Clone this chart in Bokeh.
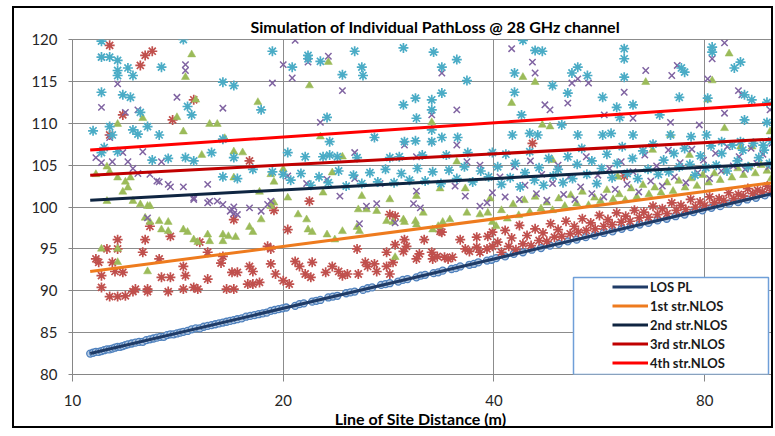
from bokeh.plotting import figure
from bokeh.models import (Range1d, FixedTicker, NumeralTickFormatter, Legend,
                          LegendItem, BoxAnnotation, ColumnDataSource)
from bokeh.embed import file_html
from bokeh.resources import INLINE

# ---------------- data ----------------
x_ticks = [10, 20, 40, 80]
y_ticks = [80, 85, 90, 95, 100, 105, 110, 115, 120]

legend_labels = ["LOS PL", "1st str.NLOS", "2nd str.NLOS", "3rd str.NLOS", "4th str.NLOS"]

# straight trend lines (distance, path loss dB)
trend_x = [10.6, 100.0]
los_trend = [82.5, 101.6]
nlos1_trend = [92.3, 102.9]
nlos2_trend = [100.8, 105.2]
nlos3_trend = [103.8, 108.1]
nlos4_trend = [106.8, 112.3]

# LOS path loss samples (blue circles)
los_pts = [(10.6,82.5),(10.7,82.6),(10.8,82.7),(10.9,82.7),(11.0,82.8),(11.1,82.9),(11.2,83.0),(11.3,83.0),
           (11.4,83.1),(11.5,83.2),(11.6,83.3),(11.7,83.3),(11.8,83.4),(11.9,83.5),(12.0,83.6),(12.15,83.7),
           (12.3,83.8),(12.45,83.9),(12.6,83.9),(12.75,84.1),(12.9,84.2),(13.05,84.3),(13.2,84.4),(13.35,84.5),
           (13.5,84.5),(13.65,84.7),(13.8,84.8),(13.95,84.8),(14.1,84.9),(14.25,85.0),(14.4,85.1),(14.6,85.2),
           (14.8,85.4),(15.0,85.5),(15.2,85.5),(15.4,85.7),(15.6,85.8),(15.8,85.9),(16.0,86.0),(16.2,86.1),
           (16.4,86.2),(16.6,86.3),(16.8,86.4),(17.0,86.5),(17.2,86.6),(17.45,86.7),(17.7,86.9),(17.95,87.0),
           (18.2,87.1),(18.45,87.2),(18.7,87.3),(18.95,87.4),(19.2,87.6),(19.45,87.7),(19.7,87.8),(19.95,87.9),
           (20.2,88.0),(20.8,88.2),(21.1,88.4),(21.4,88.5),(22.0,88.7),(22.3,88.8),(22.6,88.9),(23.2,89.2),
           (23.55,89.3),(23.9,89.4),(24.6,89.7),(24.95,89.8),(25.3,89.9),(26.0,90.1),(26.4,90.3),(26.8,90.4),
           (27.6,90.7),(28.0,90.8),(28.4,90.9),(29.2,91.1),(29.65,91.3),(30.1,91.4),(31.0,91.6),(31.45,91.8),
           (31.9,91.9),(32.8,92.1),(33.3,92.2),(33.8,92.4),(34.8,92.6),(35.3,92.7),(35.8,92.9),(36.9,93.1),
           (37.45,93.2),(38.0,93.4),(39.1,93.6),(39.7,93.7),(40.3,93.9),(41.5,94.1),(42.7,94.4),(44.0,94.6),
           (45.3,94.9),(46.7,95.1),(48.1,95.4),(49.5,95.6),(51.0,95.9),(52.5,96.1),(54.1,96.4),(55.7,96.6),
           (57.4,96.9),(59.1,97.1),(60.9,97.4),(62.7,97.6),(64.6,97.9),(66.5,98.1),(68.5,98.4),(70.6,98.6),
           (72.7,98.9),(74.9,99.1),(77.1,99.4),(79.4,99.6),(81.8,99.9),(84.2,100.1),(86.7,100.4),(89.3,100.6),
           (92.0,100.9),(94.7,101.1),(97.5,101.4),(100.0,101.6)]

# 1st strongest NLOS path (red asterisks)
nlos1_pts = [(10.8,93.8),(10.9,93.4),(11.0,91.8),(11.0,90.4),(11.2,95.0),(11.3,89.3),(11.4,93.4),(11.5,92.3),
             (11.6,96.1),(11.6,95.0),(11.6,89.3),(11.8,92.2),(11.9,89.4),(12.2,89.9),(12.3,90.2),(12.6,94.6),
             (12.7,96.1),(12.8,90.2),(12.8,89.9),(12.9,97.7),(13.3,93.8),(13.4,91.6),(13.7,89.9),(13.8,91.6),
             (13.8,96.5),(14.4,92.9),(14.4,90.2),(14.5,91.8),(14.9,90.4),(15.1,90.2),(15.2,95.8),(15.6,91.4),
             (15.6,94.6),(16.3,93.3),(16.4,94.1),(16.6,90.2),(16.9,92.2),(17.0,90.2),(17.0,98.5),(17.2,92.2),
             (17.8,90.8),(17.9,92.9),(18.1,90.8),(18.1,92.3),(18.5,91.0),(19.0,95.3),(19.2,95.0),(19.2,93.2),
             (19.4,99.6),(19.5,92.0),(11.3,119.3),(12.7,118.1),(13.0,118.6),(12.5,116.9),(14.9,112.8),
             (11.8,111.0),(13.9,110.4),(17.9,105.5),(11.3,108.6),
             (20.0,91.2),(20.4,90.8),(20.3,97.3),(20.8,93.5),(21.1,92.9),(21.5,92.0),(21.8,100.7),(21.9,91.6),
             (22.0,93.4),(23.0,92.2),(23.5,92.9),(24.0,92.3),(24.3,91.8),(24.7,92.0),(25.5,95.0),(25.6,92.0),
             (26.2,93.4),(26.4,92.9),(27.0,93.2),(27.2,92.3),(28.1,92.9),(28.1,94.6),(28.4,92.0),(28.4,99.1),
             (28.7,93.4),(28.9,98.9),(28.9,95.5),(29.7,94.7),(29.8,96.1),(30.0,95.3),(31.0,93.8),(31.3,94.4),
             (31.8,96.1),(32.6,94.6),(32.7,93.8),(33.2,94.1),(33.5,97.1),(33.7,97.0),(34.0,94.0),(34.4,93.8),
             (34.9,94.0),(35.8,96.1),(36.4,95.0),(36.9,94.7),(37.8,95.2),(37.8,96.4),(38.2,94.6),(39.1,95.0),
             (39.2,96.5),(39.8,95.3),(39.8,97.0),
             (40.5,95.8),(41.0,94.6),(41.5,97.2),(42.0,95.3),(42.4,96.3),(43.0,94.9),(43.5,97.8),(44.0,95.6),
             (44.6,96.6),(45.2,95.4),(45.8,97.4),(46.4,96.0),(47.0,96.9),(47.6,95.9),(48.2,98.0),(48.8,96.4),
             (49.4,97.3),(50.0,96.5),(50.7,98.3),(51.4,96.8),(52.1,97.7),(52.8,97.0),(53.5,98.6),(54.2,97.2),
             (55.0,98.1),(55.8,97.4),(56.6,99.0),(57.4,97.7),(58.2,98.5),(59.0,97.9),(59.9,99.3),(60.8,98.2),
             (61.7,98.9),(62.6,98.3),(63.5,99.6),(64.5,98.7),(65.5,99.4),(66.5,98.8),(67.5,100.1),(68.5,99.1),
             (69.6,99.8),(70.7,99.2),(71.8,100.5),(72.9,99.6),(74.0,100.2),(75.2,99.7),(76.4,100.9),(77.6,100.0),
             (78.8,100.6),(80.0,100.2),(81.3,101.2),(82.6,100.5),(83.9,101.0),(85.2,100.8),(86.6,101.7),(88.0,101.0),
             (89.4,101.5),(90.8,101.3),(92.2,102.2),(93.7,101.6),(95.2,102.0),(96.7,101.8),(98.3,102.5),(99.5,102.0),
             (45.4,107.6),(61.4,103.7)]

# 2nd strongest NLOS path (green triangles)
nlos2_pts = [(10.8,103.9),(11.0,95.0),(11.2,104.8),(11.2,100.7),(11.3,104.2),(11.6,103.5),(11.6,109.9),(11.6,95.0),
             (11.6,93.4),(11.8,101.8),(11.9,103.0),(12.0,102.3),(12.1,103.5),(12.2,100.7),(12.5,100.3),(12.6,110.6),
             (12.7,98.7),(12.8,100.1),(12.8,92.3),(12.9,98.2),(12.9,100.1),(13.3,98.3),(13.4,97.3),(13.7,98.2),
             (13.7,97.1),(14.1,110.7),(14.4,97.3),(14.4,109.0),(14.5,115.5),(14.6,97.0),(14.8,118.2),(14.9,96.1),
             (15.0,112.8),(15.1,95.8),(15.3,106.2),(15.6,96.7),(15.7,95.9),(15.7,109.9),(16.1,109.9),(16.4,96.7),
             (16.4,95.9),(16.5,108.2),(16.7,96.5),(17.0,106.6),(17.0,103.5),(17.1,96.4),(17.5,106.5),(17.9,97.6),
             (18.1,97.0),(18.4,112.5),(18.5,101.8),(18.6,98.5),(19.2,100.1),(19.2,103.9),(19.4,100.5),(19.4,103.0),
             (20.0,104.5),(21.0,99.1),(21.6,98.5),(21.7,97.3),(21.8,114.5),(22.0,97.0),(22.6,108.4),(23.1,96.7),
             (23.2,117.3),(23.5,104.1),(23.7,96.1),(24.3,97.1),(24.3,106.0),(25.5,97.6),(25.6,99.7),(25.7,97.1),
             (26.3,99.7),(27.2,99.5),(28.1,98.3),(28.7,98.2),(28.9,94.0),(29.7,98.5),(29.8,98.2),(30.9,98.3),
             (31.0,97.9),(31.7,99.3),(32.6,110.1),(32.7,97.3),(33.3,97.7),(33.8,98.2),(34.6,98.5),(35.4,105.4),
             (36.6,99.3),(38.2,99.1),(39.2,99.3),(39.8,98.2),(20.3,101.1),(22.8,101.7),(25.9,101.3),(28.4,100.9),
             (31.0,101.3),(33.5,102.2),(36.4,102.2),(39.5,101.0),
             (40.3,97.7),(41.0,99.6),(41.8,98.6),(42.4,112.4),(42.6,100.3),(43.4,99.0),(44.0,115.5),(44.2,100.8),
             (45.0,99.4),(45.8,114.9),(45.8,101.2),(46.7,99.8),(46.9,109.8),(47.6,100.5),(48.1,109.6),(48.5,105.6),
             (48.5,99.6),(49.5,101.0),(50.5,100.1),(51.5,101.4),(52.5,100.4),(53.5,101.8),(54.6,100.2),(55.7,101.1),
             (56.8,100.7),(58.0,102.0),(59.2,100.9),(60.1,103.6),(60.4,101.5),(61.6,100.8),(62.8,102.2),(64.0,101.2),
             (65.3,102.6),(65.9,114.9),(66.6,101.5),(67.4,106.8),(67.9,102.3),(69.3,101.7),(70.7,102.9),(71.5,108.6),
             (72.1,101.9),(73.5,103.1),(75.0,102.3),(76.1,106.2),(76.5,103.4),(78.0,102.5),(79.5,103.8),(80.8,112.8),
             (81.0,102.9),(82.0,115.1),(82.6,104.0),(84.2,103.2),(85.4,109.4),(85.8,104.3),(86.7,118.3),(87.5,103.5),
             (89.2,104.6),(90.0,107.2),(90.9,103.8),(92.7,104.8),(93.5,107.2),(94.5,104.0),(96.3,105.0),(98.2,104.3),
             (99.2,109.0),(99.6,103.4)]

# 3rd strongest NLOS path (purple crosses)
nlos3_pts = [(10.8,105.9),(11.0,117.9),(11.0,105.3),(11.0,111.9),(11.3,108.3),(11.4,105.4),(11.6,114.7),(11.8,106.5),
             (11.9,111.3),(12.0,105.4),(12.2,104.6),(12.4,104.0),(12.4,111.6),(12.6,106.6),(12.8,98.7),(12.9,103.9),
             (13.2,103.1),(13.3,103.0),(13.4,105.4),(13.7,102.7),(13.8,102.4),(14.1,113.1),(14.4,102.4),(14.5,117.0),
             (14.5,116.3),(14.9,101.1),(14.9,100.9),(15.6,100.5),(15.6,102.7),(15.7,100.7),(16.1,100.7),(16.4,111.8),
             (16.4,100.3),(16.8,99.5),(16.9,99.7),(17.0,100.0),(17.0,99.2),(17.2,99.1),(17.9,99.9),(18.6,99.5),
             (19.0,100.3),(19.2,100.7),(19.3,114.8),(20.0,117.0),(20.0,103.9),
             (20.6,115.4),(20.8,119.9),(21.7,117.3),(22.6,110.1),(23.2,118.0),(24.3,113.9),(25.3,106.5),(27.0,108.3),
             (29.8,107.4),(31.0,106.0),(32.6,111.0),(32.6,107.8),(33.7,116.0),(35.4,111.6),(35.4,107.4),(36.6,105.4),
             (38.2,105.0),(26.3,100.1),(27.2,100.4),(30.7,100.4),(31.4,99.9),(38.2,100.1),(39.1,100.5),(39.8,101.7),
             (25.3,103.4),(27.5,102.8),(31.0,101.9),(20.3,103.7),(21.6,102.8),(23.1,103.3),(24.1,101.3),(35.2,102.5),
             (36.4,101.3),(25.7,98.0),(28.9,98.1),
             (40.8,103.6),(41.5,101.2),(42.4,118.9),(42.8,104.8),(43.5,100.9),(44.3,102.6),(45.1,105.5),(45.4,117.3),
             (45.8,116.0),(46.0,101.6),(46.8,103.9),(47.3,112.2),(47.6,100.8),(48.1,111.6),(48.5,102.8),(49.4,105.0),
             (50.3,101.5),(51.0,112.4),(51.2,103.6),(51.7,114.8),(52.2,100.9),(52.7,115.3),(53.2,102.4),(54.2,106.0),
             (54.6,114.8),(55.2,101.6),(56.3,103.8),(57.4,101.2),(57.5,111.0),(58.5,104.6),(59.6,102.1),(60.8,105.4),
             (61.4,113.7),(62.0,102.7),(63.2,110.6),(63.2,104.2),(64.4,101.8),(65.7,106.2),(65.9,116.3),(67.0,103.1),
             (68.3,104.9),(69.6,102.5),(71.0,106.8),(71.5,110.1),(71.8,115.7),(72.4,103.6),(73.1,116.9),(73.8,105.3),
             (75.2,102.9),(76.7,106.9),(78.2,104.1),(78.6,109.8),(79.7,105.6),(80.8,115.3),(81.3,103.4),(82.0,117.7),
             (82.9,106.4),(84.5,104.3),(85.4,119.6),(85.4,111.2),(86.2,107.2),(87.9,104.9),(89.4,113.9),(89.6,106.0),
             (90.4,113.4),(91.4,104.5),(93.2,107.0),(95.0,105.2),(96.9,106.3),(98.8,104.8),(99.2,111.6),(99.8,107.6)]

# 4th strongest NLOS path (cyan asterisks)
nlos4_pts = [(10.7,109.1),(11.0,119.8),(11.0,117.9),(11.3,117.9),(11.0,113.7),(11.0,106.5),(11.1,107.1),(11.3,109.6),
             (11.4,108.6),(11.6,117.5),(11.6,116.3),(11.6,115.7),(11.6,106.6),(11.8,113.4),(12.0,116.6),(12.1,113.1),
             (12.2,115.7),(12.2,109.2),(12.4,108.7),(12.5,111.3),(12.8,109.6),(13.0,105.6),(13.3,108.6),(13.4,116.7),
             (13.7,105.8),(14.4,120.0),(14.5,105.9),(14.6,112.0),(14.8,111.0),(14.9,105.5),(15.8,106.5),(16.4,114.9),
             (16.4,108.1),(16.4,103.6),(17.0,114.5),(17.0,105.9),(17.2,103.4),(18.1,104.5),(18.6,111.6),(19.3,118.6),
             (19.3,104.2),(20.0,103.9),
             (20.3,106.5),(20.6,116.7),(21.5,106.0),(21.7,118.1),(21.7,117.7),(22.6,117.4),(22.8,106.0),(23.1,110.7),
             (23.3,107.8),(23.3,106.2),(23.9,106.0),(24.3,115.8),(25.3,118.6),(25.5,105.9),(25.9,116.7),(26.0,115.7),
             (27.0,108.3),(28.4,105.9),(29.3,106.0),(29.7,119.0),(29.7,112.2),(29.8,107.8),(30.9,113.0),(30.9,107.9),
             (31.0,110.6),(31.6,106.2),(32.6,112.8),(32.6,111.6),(32.6,109.2),(32.6,107.8),(32.8,118.5),(33.7,116.7),
             (33.7,113.6),(33.7,108.3),(34.2,106.2),(35.4,117.6),(35.5,108.3),(36.6,115.1),(36.7,106.5),(39.8,106.5),
             (20.5,103.2),(21.2,104.0),(21.9,102.6),(22.5,103.6),(23.2,102.9),(24.0,104.3),(24.6,102.5),(25.2,103.8),
             (25.9,102.8),(26.6,104.1),(27.3,103.0),(28.0,104.5),(28.8,102.9),(29.5,104.0),(30.3,103.2),(31.1,104.6),
             (31.9,103.1),(32.7,104.2),(33.6,102.8),(34.5,104.4),(35.4,103.4),(36.3,104.8),(37.3,103.0),(38.3,104.3),
             (39.3,103.6),
             (42.8,116.0),(42.8,113.7),(43.8,111.0),(44.0,119.9),(45.8,118.7),(46.9,118.6),(48.5,114.5),(50.0,109.8),
             (51.0,113.6),(51.7,116.0),(52.7,116.7),(54.4,115.7),(57.2,113.1),(59.9,111.9),(60.5,110.7),(61.4,118.9),
             (61.4,117.7),(61.4,115.5),(63.2,112.2),(69.0,111.0),(73.6,113.1),(74.1,116.6),(74.9,116.1),(80.8,113.0),
             (82.0,119.1),(82.0,118.5),(88.2,116.6),(90.0,117.3),(91.2,113.4),(91.2,110.4),(93.4,112.8),(98.2,112.5),
             (98.2,110.1),
             (42.5,108.6),(45.0,108.8),(46.2,108.6),(52.7,108.6),(57.2,108.6),(58.8,108.8),(63.2,108.6),(71.5,108.6),
             (76.5,108.4),(80.5,108.6),(84.6,107.8),(90.0,107.8),(97.0,107.4),
             (40.5,104.8),(41.0,102.7),(41.6,106.3),(42.2,103.5),(42.9,105.2),(43.6,102.4),(44.3,104.1),(45.0,106.6),
             (45.7,103.2),(46.4,104.7),(47.1,102.6),(47.9,105.8),(48.6,103.7),(49.4,104.5),(50.2,102.9),(51.0,106.0),
             (51.8,103.4),(52.6,105.1),(53.4,107.0),(54.3,103.9),(55.2,105.5),(56.1,102.8),(57.0,104.6),(58.0,106.3),
             (59.0,103.5),(60.0,105.2),(61.0,107.2),(62.0,104.0),(63.1,105.8),(64.2,103.4),(65.3,106.7),(66.4,104.5),
             (67.5,107.5),(68.7,103.9),(69.9,105.6),(71.1,104.2),(72.3,106.4),(73.6,104.8),(74.9,107.0),(76.2,105.1),
             (77.5,103.8),(78.9,106.1),(80.3,104.7),(81.7,107.3),(83.1,105.0),(84.6,106.4),(86.1,104.3),(87.6,107.4),
             (89.1,105.5),(90.7,106.8),(92.3,104.8),(93.9,107.6),(95.6,105.9),(97.3,106.8),(99.0,105.2),(99.7,107.9)]


def src(pts):
    return ColumnDataSource(data=dict(x=[a for a, _ in pts], y=[b for _, b in pts]))


FONT = "Lato"

p = figure(width=761, height=422, x_axis_type="log",
           x_range=Range1d(10, 100), y_range=Range1d(80, 120),
           output_backend="svg", toolbar_location=None,
           min_border_left=58, min_border_right=3, min_border_top=31, min_border_bottom=55,
           background_fill_color="white", border_fill_color="white")
p.styles = {"margin-left": "12px", "margin-top": "6px", "border": "2px solid #000000"}

p.title.text = "Simulation of Individual  PathLoss @ 28 GHz channel"
p.title.align = "left"
p.title.offset = 178
p.title.text_font = FONT
p.title.text_font_size = "16px"
p.title.text_font_style = "bold"
p.title.text_color = "#000000"
p.title.standoff = 8

# axes
for ax in (p.xaxis[0], p.yaxis[0]):
    ax.axis_line_color = "#868686"
    ax.major_tick_line_color = "#868686"
    ax.minor_tick_line_color = None
    ax.major_label_text_font = FONT
    ax.major_label_text_font_size = "15px"
    ax.major_label_text_color = "#262626"
    ax.major_tick_in = 0

p.xaxis.ticker = FixedTicker(ticks=x_ticks)
p.xaxis.formatter = NumeralTickFormatter(format="0")
p.xaxis.major_tick_out = 7
p.xaxis.major_label_standoff = 13
p.xaxis.axis_label = "Line of Site Distance  (m)"
p.xaxis.axis_label_text_font = FONT
p.xaxis.axis_label_text_font_size = "16px"
p.xaxis.axis_label_text_font_style = "bold"
p.xaxis.axis_label_text_color = "#000000"
p.xaxis.axis_label_standoff = 0

p.yaxis.ticker = FixedTicker(ticks=y_ticks)
p.yaxis.major_tick_out = 4
p.yaxis.major_label_standoff = 11

p.xgrid.ticker = FixedTicker(ticks=x_ticks)
p.ygrid.ticker = FixedTicker(ticks=y_ticks)
for g in (p.xgrid[0], p.ygrid[0]):
    g.grid_line_color = "#8C8C8C"
    g.grid_line_width = 1
p.outline_line_color = "#8C8C8C"

# scatter series
p.scatter("x", "y", source=src(los_pts), marker="circle", size=7,
          fill_color="#B9CDE5", line_color="#4F81BD", line_width=1.3)
p.scatter("x", "y", source=src(nlos1_pts), marker="asterisk", size=10,
          line_color="#C0504D", line_width=1.7)
p.scatter("x", "y", source=src(nlos2_pts), marker="triangle", size=8,
          fill_color="#9BBB59", line_color="#9BBB59", line_width=0.5)
p.scatter("x", "y", source=src(nlos3_pts), marker="x", size=9,
          line_color="#8064A2", line_width=1.5)
p.scatter("x", "y", source=src(nlos4_pts), marker="asterisk", size=10,
          line_color="#4BACC6", line_width=1.7)

# trend lines
trend_colors = ["#1F3B66", "#EE7B1E", "#0F2541", "#C00000", "#FF0000"]
trend_vals = [los_trend, nlos1_trend, nlos2_trend, nlos3_trend, nlos4_trend]
trend_renderers = []
for vals, col in zip(trend_vals, trend_colors):
    r = p.line(trend_x, vals, line_color=col, line_width=3)
    trend_renderers.append(r)

# legend frame + legend
box = BoxAnnotation(left=501, right=696, bottom=0, top=97,
                    left_units="screen", right_units="screen",
                    bottom_units="screen", top_units="screen",
                    fill_color="white", fill_alpha=1.0,
                    line_color="#6F9FD8", line_width=1.5, line_alpha=1.0)
p.add_layout(box)

legend = Legend(items=[LegendItem(label=lab, renderers=[r])
                       for lab, r in zip(legend_labels, trend_renderers)],
                location=(539, 1), padding=1, margin=0, spacing=0,
                glyph_width=36, glyph_height=19, label_height=19, label_standoff=2,
                label_text_font=FONT, label_text_font_style="bold",
                label_text_font_size="13px", label_text_color="#1A1A1A",
                border_line_alpha=0, background_fill_alpha=0)
p.add_layout(legend)

open("out.html", "w").write(file_html(p, INLINE))
